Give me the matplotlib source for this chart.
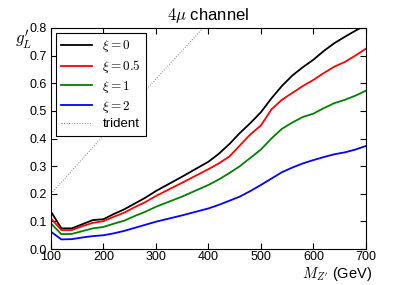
import matplotlib
matplotlib.use('Agg')
from matplotlib import pyplot as plt

plt.rcParams['font.family'] = ['Liberation Sans', 'DejaVu Sans']
plt.rcParams['mathtext.fontset'] = 'cm'
plt.rcParams['xtick.direction'] = 'in'
plt.rcParams['ytick.direction'] = 'in'
plt.rcParams['xtick.top'] = True
plt.rcParams['ytick.right'] = True

# Z' mass (GeV)
mz = [100, 120, 140, 160, 180, 200, 220, 240, 260, 280, 300, 350, 400,
      420, 440, 460, 480, 500, 520, 540, 560, 580, 600, 620, 640, 660, 680, 700]
xi0 = [0.136, 0.075, 0.075, 0.09, 0.105, 0.108, 0.127, 0.144, 0.165, 0.186, 0.21, 0.262, 0.316,
       0.345, 0.38, 0.42, 0.456, 0.495, 0.545, 0.59, 0.628, 0.658, 0.685, 0.717, 0.745, 0.768, 0.79, 0.81]
xi05 = [0.111, 0.069, 0.069, 0.083, 0.095, 0.101, 0.117, 0.132, 0.152, 0.17, 0.192, 0.24, 0.289,
        0.31, 0.335, 0.375, 0.415, 0.447, 0.505, 0.54, 0.565, 0.59, 0.612, 0.637, 0.66, 0.677, 0.70, 0.725]
xi1 = [0.093, 0.054, 0.055, 0.065, 0.075, 0.08, 0.092, 0.103, 0.12, 0.135, 0.153, 0.19, 0.232,
       0.252, 0.275, 0.30, 0.33, 0.36, 0.40, 0.435, 0.458, 0.478, 0.49, 0.51, 0.528, 0.54, 0.555, 0.573]
xi2 = [0.063, 0.035, 0.036, 0.042, 0.047, 0.05, 0.057, 0.066, 0.077, 0.088, 0.099, 0.122, 0.147,
       0.16, 0.175, 0.19, 0.21, 0.232, 0.255, 0.278, 0.295, 0.31, 0.322, 0.333, 0.343, 0.35, 0.36, 0.373]
# trident bound
mz_tri = [100, 200, 300, 390]
tri = [0.2, 0.41, 0.615, 0.8]

fig = plt.figure(figsize=(4.07, 2.85), dpi=100)
ax = fig.add_axes([0.125, 0.126, 0.774, 0.776])

ax.plot(mz, xi0, color='black', lw=1.3, label=r'$\xi=0$')
ax.plot(mz, xi05, color='red', lw=1.3, label=r'$\xi=0.5$')
ax.plot(mz, xi1, color='green', lw=1.3, label=r'$\xi=1$')
ax.plot(mz, xi2, color='blue', lw=1.3, label=r'$\xi=2$')
ax.plot(mz_tri, tri, color='gray', lw=0.7, ls=':', label='trident')

ax.set_xlim(100, 700)
ax.set_ylim(0, 0.8)
ax.set_xticks([100, 200, 300, 400, 500, 600, 700])
ax.set_yticks([0.0, 0.1, 0.2, 0.3, 0.4, 0.5, 0.6, 0.7, 0.8])
ax.tick_params(labelsize=9, length=4, pad=3)
ax.tick_params(axis='x', pad=1.5)

ax.set_title(r'$4\mu$ channel', fontsize=12)
ax.text(-0.06, 1.0, r"$g_L'$", transform=ax.transAxes, ha='right', va='top', fontsize=12)
ax.text(1.019, -0.07, r"$M_{Z'}$ (GeV)", transform=ax.transAxes, ha='right', va='top', fontsize=10.5)

leg = ax.legend(loc='upper left', fontsize=9.5, handlelength=2.3, labelspacing=0.28,
                fancybox=False, edgecolor='black', framealpha=1, borderaxespad=0.4)
leg.get_frame().set_linewidth(0.8)

fig.savefig('out.png', dpi=100)
